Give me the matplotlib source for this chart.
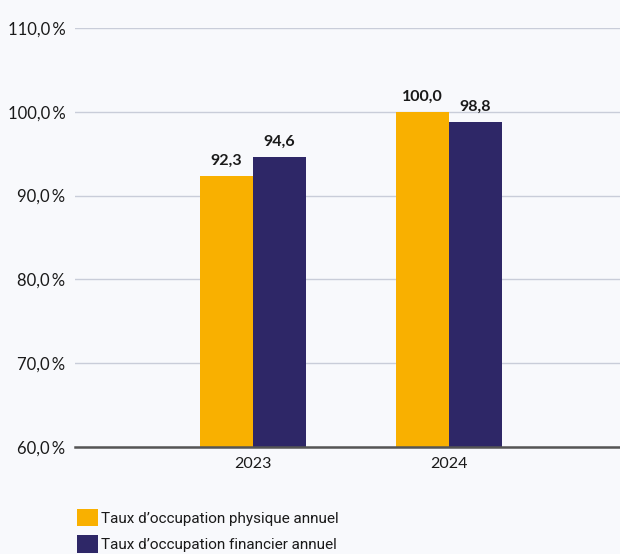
import numpy as np
import matplotlib
matplotlib.use("Agg")
import matplotlib.pyplot as plt
from matplotlib.patches import Patch

years = ["2023", "2024"]
physique = [92.3, 100.0]
financier = [94.6, 98.8]
series_names = ["Taux d\u2019occupation physique annuel", "Taux d\u2019occupation financier annuel"]
yticks = [60, 70, 80, 90, 100, 110]

YELLOW = "#F9B000"
NAVY = "#2E2767"
BG = "#f8f9fc"

plt.rcParams["font.family"] = ["Lato", "DejaVu Sans"]

fig = plt.figure(figsize=(6.2, 5.54), dpi=100, facecolor=BG)
ax = fig.add_axes([0.121, 0.193, 0.879, 0.7565], facecolor=BG)

x = np.arange(len(years))
w = 0.27
b1 = ax.bar(x - w / 2, physique, w, color=YELLOW, zorder=3)
b2 = ax.bar(x + w / 2, financier, w, color=NAVY, zorder=3)

# value labels above bars
for bars, vals in [(b1, physique), (b2, financier)]:
    for rect, v in zip(bars, vals):
        ax.annotate(f"{v:.1f}".replace(".", ","),
                    (rect.get_x() + rect.get_width() / 2, v),
                    xytext=(0, 6), textcoords="offset points",
                    ha="center", va="bottom", fontsize=11.5,
                    fontweight="bold", color="#1a1a1a")

ax.set_ylim(60, 110)
ax.set_xlim(-0.908, 1.872)
ax.set_yticks(yticks)
ax.set_yticklabels([f"{t},0\u2009%" for t in yticks], fontsize=12, color="#1a1a1a")
ax.set_xticks(x)
ax.set_xticklabels(years, fontsize=11.5, color="#1a1a1a")
ax.tick_params(axis="y", length=0, pad=7)
ax.tick_params(axis="x", length=0, pad=7)

ax.grid(axis="y", color="#c9cdd9", linewidth=1.0, zorder=0)
for s in ["top", "right", "left"]:
    ax.spines[s].set_visible(False)
ax.spines["bottom"].set_color("#555555")
ax.spines["bottom"].set_linewidth(1.8)
ax.spines["bottom"].set_zorder(4)

handles = [Patch(facecolor=YELLOW), Patch(facecolor=NAVY)]
leg = fig.legend(handles, series_names, loc="upper left",
                 bbox_to_anchor=(0.124, 0.081), frameon=False,
                 prop={"family": ["Roboto", "DejaVu Sans"], "size": 11},
                 handlelength=1.35, handleheight=1.35,
                 handletextpad=0.25, labelspacing=0.6, borderpad=0,
                 borderaxespad=0, labelcolor="#1a1a1a")

fig.savefig("out.png", dpi=100, facecolor=BG)
